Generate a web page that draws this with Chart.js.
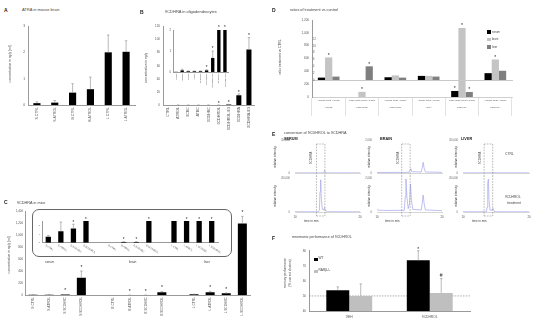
<!DOCTYPE html>
<html>
<head>
<meta charset="utf-8">
<script src="https://cdn.jsdelivr.net/npm/chart.js@4.4.1/dist/chart.umd.min.js"></script>
<style>
html, body { margin: 0; padding: 0; background: #fff; }
#fig { position: relative; width: 550px; height: 331px; overflow: hidden; font-family: "Liberation Sans", Arial, sans-serif; color: #333; }
#fig canvas { position: absolute; }
.t { position: absolute; white-space: nowrap; line-height: 1; transform: translateY(-50%); z-index: 5; }
.v { position: absolute; white-space: nowrap; line-height: 1; transform: translate(-50%, -50%) rotate(-90deg); z-index: 5; }
.sq { position: absolute; z-index: 5; }
</style>
</head>
<body>
<div id="fig"></div>
<script>
// A - ATRA in mouse brain
const aLabels = ["S CTRL", "S ATROL", "B CTRL", "B ATROL", "L CTRL", "L ATROL"];
const aValues = [0.07, 0.09, 0.47, 0.6, 2.0, 2.02];
const aErrors = [0.05, 0.08, 0.34, 0.46, 0.66, 0.42];

// B - 9CDHRA in oligodendrocytes (inset shows the same values on 0-2)
const bLabels = ["CTRL", "ATROL", "9CBC", "ATBC", "9CDHBC", "9CDHROL", "9CDHROL-E3", "9CDHRA", "9CDHRA-E3"];
const bValues = [0.01, 0.08, 0.04, 0.04, 0.04, 0.08, 0.67, 15, 85];
const bErrors = [0, 0.05, 0.01, 0.01, 0.01, 0.03, 0.33, 2, 18];
const bMarks = ["", "", "", "", "", "*", "*", "*", "*"];

// C - 9CDHRA in mice (inset shows the same values on 0-10)
const cLabels = ["S CTRL", "S ATROL", "S 9CDHBC", "S 9CDHROL", "", "B CTRL", "B ATROL", "B 9CDHBC", "B 9CDHROL", "", "L CTRL", "L ATROL", "L 9CDHBC", "L 9CDHROL"];
const cValues = [2.7, 5.3, 6.5, 287, null, 0, 0.3, 0.3, 45, null, 12, 45, 28, 1190];
const cErrors = [0.6, 4.2, 2, 113, 0, 0, 0.2, 0.2, 12, 0, 2, 15, 8, 120];
const cMarks = ["", "", "*", "*", "", "", "*", "*", "*", "", "", "*", "*", "*"];
const cGroups = ["serum", "brain", "liver"];

// D - ratios of treatment vs control
const dGroups = [
    ["ATROL treat / CTRL", "ATROL"],
    ["9CDHROL treat / CTRL", "9CDHROL"],
    ["ATROL treat / CTRL", "9CDHROL"],
    ["ATROL treat / CTRL", "ATRA"],
    ["9CDHROL treat / CTRL", "9CDHRA"],
    ["ATROL treat / CTRL", "9CDHRA"]
];
const dSeries = ["serum", "brain", "liver"];
// ratios read on the small 0-12 axis
const dSerumSmall = [0.7, null, 0.8, 1.2, null, 2.0];
const dBrainSmall = [6.6, null, 1.35, 1.2, null, 6.0];
const dLiverSmall = [1.0, 4.0, 0.7, 1.0, null, 2.7];
const dBrainSmallMarks = ["*", "", "", "", "", "*"];
const dLiverSmallMarks = ["", "*", "", "", "", ""];
// ratios read on the big 0-1200 axis
const dSerumBig = [null, null, null, null, 94, null];
const dBrainBig = [null, 80, null, null, 1075, null];
const dLiverBig = [null, null, null, null, 78, null];
const dSerumBigMarks = ["", "", "", "", "*", ""];
const dBrainBigMarks = ["", "*", "", "", "*", ""];
const dLiverBigMarks = ["", "", "", "", "*", ""];

// E - chromatograms [time in min, intensity]
const serumCtrl = [[10, 500], [14.3, 600], [14.45, 6000], [14.55, 12000], [14.7, 2000], [15, 600], [20, 500]];
const serumTreat = [[10, 800], [13.6, 900], [13.75, 8000], [13.85, 90000], [13.95, 142000], [14.05, 60000], [14.2, 12000], [14.4, 9000], [14.55, 20000], [14.7, 5000], [15, 1200], [20, 800]];
const brainCtrl = [[10, 30], [14.9, 40], [15.05, 150], [15.2, 260], [15.35, 80], [16.8, 60], [16.95, 300], [17.1, 650], [17.25, 300], [17.45, 60], [20, 40]];
const brainTreat = [[10, 120], [11, 90], [14.2, 100], [14.35, 900], [14.45, 1950], [14.6, 900], [14.8, 200], [15.0, 500], [15.15, 1650], [15.3, 700], [15.5, 150], [16.8, 120], [16.95, 500], [17.1, 1000], [17.25, 500], [17.45, 120], [20, 80]];
const liverCtrl = [[10, 600], [14.4, 700], [14.55, 3000], [14.7, 800], [20, 600]];
const liverTreat = [[10, 800], [13.55, 900], [13.65, 20000], [13.75, 130000], [13.85, 145000], [13.95, 50000], [14.1, 8000], [14.4, 9000], [14.55, 16000], [14.7, 3000], [15, 1000], [20, 800]];
const serumWindow = [13.3, 14.6];
const brainWindow = [13.8, 15.1];
const liverWindow = [13.2, 14.5];

// F - mnemonic performance
const fLabels = ["VEH", "9CDHROL"];
const fWT = [53.8, 73.6];
const fWTErr = [2.2, 6.7];
const fWTMarks = ["", "*"];
const fRAR = [50, 52];
const fRARErr = [8, 9.5];
const fRARMarks = ["", "#"];
const fChance = 50;

const FONT = '"Liberation Sans", Arial, sans-serif';
const AX = "#9a9a9a";
Chart.defaults.font.family = FONT;
Chart.defaults.color = "#555";
Chart.defaults.plugins.legend.display = false;
Chart.defaults.plugins.tooltip.enabled = false;
Chart.defaults.events = [];

// error bars and * / # marks on bars
const marksPlugin = {
    id: "marks",
    afterDatasetsDraw(chart, args, opts) {
        const ctx = chart.ctx, area = chart.chartArea;
        chart.data.datasets.forEach((ds, di) => {
            if (!ds.err && !ds.marks) return;
            const meta = chart.getDatasetMeta(di);
            const ys = chart.scales[meta.yAxisID];
            meta.data.forEach((bar, i) => {
                const v = ds.data[i];
                if (v == null) return;
                let top = Math.max(bar.y, area.top);
                const e = ds.err ? ds.err[i] : 0;
                ctx.save();
                if (e && v < ys.max) {
                    const ey = Math.max(ys.getPixelForValue(v + e), area.top);
                    ctx.strokeStyle = "#8c8c8c";
                    ctx.lineWidth = 0.6;
                    ctx.beginPath();
                    ctx.moveTo(bar.x, bar.y);
                    ctx.lineTo(bar.x, ey);
                    ctx.moveTo(bar.x - 1.2, ey);
                    ctx.lineTo(bar.x + 1.2, ey);
                    ctx.stroke();
                    top = Math.min(top, ey);
                }
                const m = ds.marks ? ds.marks[i] : "";
                if (m) {
                    const size = opts.size || 5;
                    ctx.fillStyle = "#222";
                    ctx.font = size + "px " + FONT;
                    ctx.textAlign = "center";
                    ctx.textBaseline = "alphabetic";
                    const lift = m === "*" ? 0.57 : 0.36;
                    ctx.fillText(m, bar.x, top - (opts.gap || 3) + lift * size);
                }
                ctx.restore();
            });
        });
    }
};

// dashed reference line (panel F)
const refLinePlugin = {
    id: "refLine",
    beforeDatasetsDraw(chart, args, opts) {
        if (opts.value == null) return;
        const ctx = chart.ctx, area = chart.chartArea;
        const y = chart.scales.y.getPixelForValue(opts.value);
        ctx.save();
        ctx.strokeStyle = "#777";
        ctx.lineWidth = 0.6;
        ctx.setLineDash([1.5, 1.2]);
        ctx.beginPath();
        ctx.moveTo(area.left, y);
        ctx.lineTo(area.right, y);
        ctx.stroke();
        ctx.restore();
    }
};

// dashed retention window (panel E)
const windowPlugin = {
    id: "window",
    afterDatasetsDraw(chart, args, opts) {
        if (opts.from == null) return;
        const ctx = chart.ctx, area = chart.chartArea, xs = chart.scales.x;
        const x1 = xs.getPixelForValue(opts.from), x2 = xs.getPixelForValue(opts.to);
        const isTop = opts.part === "top";
        const y1 = isTop ? area.top + 4 : area.top - 2.5;
        const y2 = isTop ? area.bottom + 2.5 : area.bottom + 4;
        ctx.save();
        ctx.strokeStyle = "#888";
        ctx.lineWidth = 0.6;
        ctx.setLineDash([1.6, 1.2]);
        ctx.beginPath();
        ctx.moveTo(x1, y1); ctx.lineTo(x1, y2);
        ctx.moveTo(x2, y1); ctx.lineTo(x2, y2);
        if (isTop) { ctx.moveTo(x1, y1); ctx.lineTo(x2, y1); }
        else { ctx.moveTo(x1, y2); ctx.lineTo(x2, y2); }
        ctx.stroke();
        ctx.restore();
    }
};

// slanted small labels (panel C inset)
const slantPlugin = {
    id: "slant",
    afterDraw(chart, args, opts) {
        if (!opts.size) return;
        const ctx = chart.ctx, xs = chart.scales.x;
        chart.data.labels.forEach((lab, i) => {
            if (!lab) return;
            ctx.save();
            ctx.translate(xs.getPixelForTick(i) - 2, chart.chartArea.bottom + 1.5);
            ctx.rotate(opts.angle * Math.PI / 180);
            ctx.font = opts.size + "px " + FONT;
            ctx.fillStyle = "#555";
            ctx.textAlign = "left";
            ctx.textBaseline = "top";
            ctx.fillText(lab, 0, 0);
            ctx.restore();
        });
    }
};

Chart.register(marksPlugin, refLinePlugin, windowPlugin, slantPlugin);

const fig = document.getElementById("fig");

function noGrid() { return { display: false, drawTicks: false }; }

function fix(size, key) {
    return s => {
        s[key] = size;
        s.paddingLeft = s.paddingRight = s.paddingTop = s.paddingBottom = 0;
    };
}

// area = [left, top, right, bottom] of the plot area on the page
function mount(area, yw, xh, cfg) {
    const pad = 10;
    const L = Math.floor(area[0] - yw - pad), T = Math.floor(area[1] - pad);
    const R = Math.ceil(area[2] + pad), B = Math.ceil(area[3] + xh + pad);
    const cv = document.createElement("canvas");
    cv.width = R - L;
    cv.height = B - T;
    cv.style.left = L + "px";
    cv.style.top = T + "px";
    fig.appendChild(cv);
    const o = cfg.options;
    o.responsive = false;
    o.animation = false;
    o.devicePixelRatio = 1;
    o.layout = { padding: { left: area[0] - yw - L, top: area[1] - T, right: R - area[2], bottom: B - area[3] - xh } };
    o.scales.x.afterFit = fix(xh, "height");
    o.scales.y.afterFit = fix(yw, "width");
    return new Chart(cv, cfg);
}

function text(s, x, y, size, css) {
    const d = document.createElement("div");
    d.className = "t";
    d.textContent = s;
    d.style.cssText = `left:${x}px;top:${y}px;font-size:${size}px;` + (css || "");
    fig.appendChild(d);
}

function vtext(s, x, y, size) {
    const d = document.createElement("div");
    d.className = "v";
    d.textContent = s;
    d.style.cssText = `left:${x}px;top:${y}px;font-size:${size}px;color:#444;`;
    fig.appendChild(d);
}

function square(x, y, w, h, color) {
    const d = document.createElement("div");
    d.className = "sq";
    d.style.cssText = `left:${x}px;top:${y}px;width:${w}px;height:${h}px;background:${color};`;
    fig.appendChild(d);
}

function rotatedX(size) {
    return { autoSkip: false, minRotation: 90, maxRotation: 90, font: { size }, padding: 2 };
}

// ---------- A ----------
mount([28, 26, 135, 105], 12, 24, {
    type: "bar",
    data: { labels: aLabels, datasets: [{ data: aValues, err: aErrors, backgroundColor: "#000", barPercentage: 0.4, categoryPercentage: 1 }] },
    options: {
        scales: {
            x: { grid: noGrid(), border: { color: AX }, ticks: rotatedX(3.5) },
            y: { min: 0, max: 3, ticks: { stepSize: 1, font: { size: 3.3 }, padding: 3 }, grid: noGrid(), border: { color: AX } }
        }
    }
});

// ---------- B ----------
mount([163, 26.5, 254, 105], 12, 30, {
    type: "bar",
    data: { labels: bLabels, datasets: [{ data: bValues, err: bErrors, marks: bMarks, backgroundColor: "#000", barPercentage: 0.5, categoryPercentage: 1 }] },
    options: {
        plugins: { marks: { gap: 3 } },
        scales: {
            x: { grid: noGrid(), border: { color: AX }, ticks: rotatedX(3.7) },
            y: { min: 0, max: 120, ticks: { stepSize: 20, font: { size: 3 }, padding: 3 }, grid: noGrid(), border: { color: AX } }
        }
    }
});
mount([173, 30, 228, 72], 8, 16, {
    type: "bar",
    data: { labels: bLabels, datasets: [{ data: bValues, err: bErrors, marks: bMarks, backgroundColor: "#000", barPercentage: 0.55, categoryPercentage: 1, clip: 0 }] },
    options: {
        plugins: { marks: { gap: 3.5, size: 4.5 } },
        scales: {
            x: { grid: noGrid(), border: { color: AX }, ticks: { autoSkip: false, minRotation: 90, maxRotation: 90, font: { size: 2.4 }, padding: 1.5 } },
            y: { min: 0, max: 2, ticks: { stepSize: 1, font: { size: 2.8 }, padding: 2 }, grid: noGrid(), border: { color: AX } }
        }
    }
});

// ---------- C ----------
mount([25, 211, 250.4, 295], 12, 32, {
    type: "bar",
    data: { labels: cLabels, datasets: [{ data: cValues, err: cErrors, marks: cMarks, backgroundColor: "#000", barPercentage: 0.56, categoryPercentage: 1 }] },
    options: {
        plugins: { marks: { gap: 5 } },
        scales: {
            x: { grid: noGrid(), border: { color: AX }, ticks: rotatedX(3.3) },
            y: { min: 0, max: 1400, ticks: { stepSize: 200, font: { size: 2.9 }, padding: 2 }, grid: noGrid(), border: { color: AX } }
        }
    }
});
const box = document.createElement("div");
box.style.cssText = "position:absolute;left:32px;top:209px;width:200px;height:48px;border:0.7px solid #666;border-radius:7px;box-sizing:border-box;";
fig.appendChild(box);
mount([42, 221, 218, 242.7], 8, 10, {
    type: "bar",
    data: { labels: cLabels, datasets: [{ data: cValues, err: cErrors, marks: cMarks, backgroundColor: "#000", barPercentage: 0.42, categoryPercentage: 1, clip: 0 }] },
    options: {
        plugins: { marks: { gap: 3, size: 4.5 }, slant: { size: 2.5, angle: 33 } },
        scales: {
            x: { grid: noGrid(), border: { color: AX }, ticks: { display: false } },
            y: { min: 0, max: 10, ticks: { stepSize: 2, font: { size: 2.4 }, padding: 2 }, grid: noGrid(), border: { color: AX } }
        }
    }
});

// ---------- D ----------
const dColors = ["#000", "#c4c4c4", "#7f7f7f"];
function dSet(data, marks, color) {
    return { data, marks, backgroundColor: color, barPercentage: 1, categoryPercentage: 0.65 };
}
mount([312, 20, 512, 97], 16, 20, {
    type: "bar",
    data: {
        labels: dGroups,
        datasets: [
            dSet(dSerumBig, dSerumBigMarks, dColors[0]),
            dSet(dBrainBig, dBrainBigMarks, dColors[1]),
            dSet(dLiverBig, dLiverBigMarks, dColors[2])
        ]
    },
    options: {
        plugins: { marks: { gap: 3.5 } },
        scales: {
            x: {
                grid: { display: true, drawOnChartArea: false, drawTicks: true, tickLength: 19, offset: true, color: "#cfcfcf", lineWidth: 0.6 },
                border: { color: "#cfcfcf" },
                ticks: { autoSkip: false, maxRotation: 0, minRotation: 0, padding: -19.1, font: { size: 2.5, lineHeight: 2.9 } }
            },
            y: { min: 0, max: 1200, ticks: { stepSize: 200, font: { size: 3 }, padding: 3, callback: v => v.toLocaleString("en-US") }, grid: noGrid(), border: { color: AX } }
        }
    }
});
mount([312, 39, 512, 80], 2, 0, {
    type: "bar",
    data: {
        labels: dGroups,
        datasets: [
            dSet(dSerumSmall, null, dColors[0]),
            dSet(dBrainSmall, dBrainSmallMarks, dColors[1]),
            dSet(dLiverSmall, dLiverSmallMarks, dColors[2])
        ]
    },
    options: {
        plugins: { marks: { gap: 3.5 } },
        scales: {
            x: { grid: noGrid(), border: { color: "#c8c8c8" }, ticks: { display: false } },
            y: { min: 0, max: 12, ticks: { stepSize: 2, mirror: true, padding: 1, font: { size: 2.6 } }, grid: noGrid(), border: { color: AX } }
        }
    }
});
dSeries.forEach((name, i) => {
    square(486.7, 30 + i * 7.6, 4, 3.6, dColors[i]);
    text(name, 492, 31.8 + i * 7.6, 2.9, "color:#444;");
});

// ---------- E ----------
function chromo(area, data, max, win, part) {
    const bottom = part === "bottom";
    return mount(area, 14, bottom ? 6 : 0, {
        type: "line",
        data: { datasets: [{ data, borderColor: "#a4a4ec", borderWidth: 0.7, pointRadius: 0, tension: 0 }] },
        options: {
            plugins: { window: { from: win[0], to: win[1], part } },
            scales: {
                x: {
                    type: "linear", min: 10, max: 20,
                    afterBuildTicks: s => { s.ticks = [{ value: 10 }, { value: 20 }]; },
                    ticks: { display: bottom, font: { size: 2.9 }, padding: 3 },
                    grid: noGrid(), border: { color: "#c4c4c4", width: 0.7 }
                },
                y: {
                    min: 0, max,
                    afterBuildTicks: s => { s.ticks = [{ value: 0 }, { value: max }]; },
                    ticks: { font: { size: 2.7 }, padding: 5, color: "#666", callback: v => v.toLocaleString("en-US") },
                    grid: noGrid(), border: { display: false }
                }
            }
        }
    });
}
chromo([295, 140, 360, 173], serumCtrl, 150000, serumWindow, "top");
chromo([295, 178, 360, 212], serumTreat, 150000, serumWindow, "bottom");
chromo([377, 140, 442, 173], brainCtrl, 2000, brainWindow, "top");
chromo([377, 178, 442, 212], brainTreat, 2000, brainWindow, "bottom");
chromo([463, 140, 529, 173], liverCtrl, 150000, liverWindow, "top");
chromo([463, 178, 529, 212], liverTreat, 150000, liverWindow, "bottom");

// ---------- F ----------
mount([309, 250.7, 470, 311], 10, 10, {
    type: "bar",
    data: {
        labels: fLabels,
        datasets: [
            { data: fWT, err: fWTErr, marks: fWTMarks, backgroundColor: "#000", barPercentage: 1, categoryPercentage: 0.57 },
            { data: fRAR, err: fRARErr, marks: fRARMarks, backgroundColor: "#bfbfbf", barPercentage: 1, categoryPercentage: 0.57 }
        ]
    },
    options: {
        plugins: { marks: { gap: 3 }, refLine: { value: fChance } },
        scales: {
            x: { grid: noGrid(), border: { color: AX }, ticks: { font: { size: 3.3 }, padding: 4 } },
            y: { min: 40, max: 80, ticks: { stepSize: 10, font: { size: 3 }, padding: 3 }, grid: noGrid(), border: { color: AX } }
        }
    }
});

// ---------- texts ----------
const bold = "font-weight:bold;color:#222;";
text("A", 4, 10, 5, bold);
text("ATRA in mouse brain", 22, 10, 4, "color:#444;");
vtext("concentration in ng/g [ml]", 11, 64, 3.3);

text("B", 140, 12, 5, bold);
text("9CDHRA in oligodendrocytes", 165, 12, 4, "color:#444;");
vtext("concentration in ng/g", 147, 68, 3.3);

text("C", 4, 202, 5, bold);
text("9CDHRA in mice", 17, 204, 3.8, "color:#444;");
vtext("concentration in ng/g [ml]", 10, 255, 3.3);
text(cGroups[0], 45, 263, 3.3, "color:#444;");
text(cGroups[1], 129, 263, 3.3, "color:#444;");
text(cGroups[2], 204, 263, 3.3, "color:#444;");

text("D", 272, 10, 5, bold);
text("ratios of treatment vs control", 290, 11, 3.8, "color:#444;");
vtext("ratio treatment vs CTRL", 281, 57, 3.3);

text("E", 272, 134, 5, bold);
text("conversion of 9CDHROL to 9CDHRA", 284, 134, 3.8, "color:#444;");
text("SERUM", 284, 140, 3.8, bold);
text("BRAIN", 380, 140, 3.8, bold);
text("LIVER", 461, 140, 3.8, bold);
[275, 369, 456].forEach(x => { vtext("relative intensity", x, 157, 3); vtext("relative intensity", x, 196, 3); });
[311, 398, 480].forEach(x => vtext("9CDHRA", x, 158, 3));
[[313, 220.5], [394, 220.5], [481, 220.5]].forEach(p => text("time in min.", p[0] - 9, p[1], 3, "color:#444;"));
text("CTRL", 505, 155, 3.3, "color:#444;");
text("9CDHROL", 505, 198, 3.3, "color:#444;");
text("treatment", 507, 204, 3.3, "color:#444;");

text("F", 272, 237.7, 5, bold);
text("mnemonic performance of 9CDHROL", 292, 237.7, 3.6, "color:#444;");
vtext("memory performance", 286, 273, 3.2);
vtext("(% correct choices)", 290.5, 273, 3.2);
square(314, 257.5, 3.5, 3.5, "#000");
text("WT", 318.5, 259.3, 3.2, "color:#444;");
square(314, 269.5, 3.5, 3.5, "#bfbfbf");
text("RARβ-/-", 318.5, 271.3, 3.2, "color:#444;");
</script>
</body>
</html>
